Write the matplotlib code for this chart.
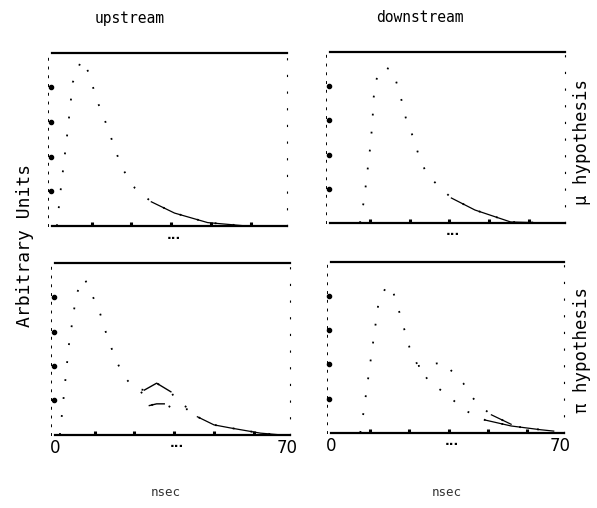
import matplotlib
matplotlib.use("Agg")
import matplotlib.pyplot as plt

# time axis in nsec, amplitude in arbitrary units (0 = lower rule, 1 = upper rule)
up_mu_t = [1.5, 2.4, 4.5, 6.3, 8.9, 11.0, 13.7, 15.8, 17.3, 21.0, 25.0, 30.0, 37.0, 47.0, 59.0, 68.0]
up_mu_v = [0.0, 0.17, 0.51, 0.83, 0.96, 0.89, 0.72, 0.62, 0.54, 0.34, 0.22, 0.14, 0.075, 0.02, 0.0, 0.0]

down_mu_t = [9.0, 10.1, 10.7, 12.2, 12.8, 13.1, 14.3, 16.5, 19.0, 21.8, 23.0, 25.3, 26.8, 29.3, 36.6, 43.7, 54.5, 66.0]
down_mu_v = [0.0, 0.12, 0.21, 0.46, 0.60, 0.73, 0.87, 0.91, 0.89, 0.70, 0.60, 0.49, 0.39, 0.28, 0.146, 0.076, 0.006, 0.0]

up_pi_t = [1.5, 4.2, 6.5, 8.9, 13.4, 16.1, 18.8, 20.8, 24.0, 27.0, 30.7, 35.0, 37.0, 40.8, 43.0, 48.0, 53.0, 62.0, 68.0]
up_pi_v = [0.0, 0.52, 0.82, 0.91, 0.72, 0.55, 0.42, 0.34, 0.27, 0.26, 0.30, 0.25, 0.19, 0.15, 0.105, 0.058, 0.04, 0.01, 0.0]
up_pi_alt_t = [26.0, 28.5, 30.7, 33.0, 35.0, 37.0, 40.8]
up_pi_alt_v = [0.25, 0.17, 0.18, 0.18, 0.16, 0.145, 0.15]

down_pi_t = [9.0, 10.0, 12.0, 14.5, 17.0, 18.6, 21.0, 24.0, 26.6, 30.0, 35.6, 41.0, 47.0, 55.0, 64.0, 68.0]
down_pi_v = [0.0, 0.12, 0.40, 0.75, 0.86, 0.85, 0.70, 0.50, 0.39, 0.30, 0.22, 0.13, 0.075, 0.04, 0.018, 0.01]
down_pi_alt_t = [26.6, 30.0, 34.4, 40.4, 43.0, 46.0, 49.0, 55.0]
down_pi_alt_v = [0.39, 0.40, 0.41, 0.29, 0.21, 0.15, 0.105, 0.05]

col_titles = ["upstream", "downstream"]
row_labels = ["\u03bc hypothesis", "\u03c0 hypothesis"]
y_dots = [0.2, 0.4, 0.6, 0.8]
x_dots = [12, 24, 36, 48, 60]
x_ends = [0, 70]

MONO = "DejaVu Sans Mono"


def draw_curve(ax, t, v, tail_from):
    ax.plot(t, v, color="black", lw=1.3, ls=(0, (1, 9)))
    tail_t = [a for a in t if a >= tail_from]
    tail_v = [b for a, b in zip(t, v) if a >= tail_from]
    ax.plot(tail_t, tail_v, color="black", lw=0.9)


def style_panel(ax, bottom_labels):
    ax.set_xlim(0, 71)
    ax.set_ylim(0, 1)
    for side in ("top", "bottom"):
        ax.spines[side].set_linewidth(1.6)
    ax.spines["left"].set_linestyle((0, (2, 7)))
    ax.spines["left"].set_linewidth(0.7)
    ax.spines["left"].set_position(("outward", 3))
    ax.spines["right"].set_linestyle((0, (1, 14)))
    ax.spines["right"].set_linewidth(0.8)
    ax.set_yticks([])
    # the y ticks show up as round dots just left of the frame
    ax.plot([-0.4] * len(y_dots), y_dots, "o", color="black", ms=3.0, clip_on=False)
    ax.set_xticks(x_dots, minor=True)
    ax.tick_params(axis="x", which="minor", direction="in", length=3, width=2.2)
    ax.set_xticks(x_ends)
    if bottom_labels:
        ax.set_xticklabels([str(x) for x in x_ends], fontsize=12)
    else:
        ax.set_xticklabels([])
    ax.tick_params(axis="x", which="major", length=0, pad=3)
    ax.text(0.52, -0.07, "\u00b7\u00b7\u00b7", transform=ax.transAxes, ha="center",
            va="center", fontsize=9, fontweight="bold")


fig = plt.figure(figsize=(5.97, 5.08), dpi=100)
ax_tl = fig.add_axes([0.087, 0.555, 0.394, 0.341])
ax_tr = fig.add_axes([0.553, 0.561, 0.394, 0.337])
ax_bl = fig.add_axes([0.092, 0.144, 0.394, 0.339])
ax_br = fig.add_axes([0.554, 0.148, 0.390, 0.337])

draw_curve(ax_tl, up_mu_t, up_mu_v, 30)
draw_curve(ax_tr, down_mu_t, down_mu_v, 36)
draw_curve(ax_bl, up_pi_t, up_pi_v, 43)
draw_curve(ax_bl, up_pi_alt_t, up_pi_alt_v, 99)
ax_bl.plot(up_pi_alt_t[1:4], up_pi_alt_v[1:4], color="black", lw=1.0)
ax_bl.plot(up_pi_t[9:12], up_pi_v[9:12], color="black", lw=1.0)
draw_curve(ax_br, down_pi_t, down_pi_v, 47)
draw_curve(ax_br, down_pi_alt_t, down_pi_alt_v, 48)

style_panel(ax_tl, False)
style_panel(ax_tr, False)
style_panel(ax_bl, True)
style_panel(ax_br, True)

fig.text(130 / 597, 1 - 18 / 508, col_titles[0], ha="center", va="center",
         family=MONO, fontsize=10.5)
fig.text(420 / 597, 1 - 18 / 508, col_titles[1], ha="center", va="center",
         family=MONO, fontsize=10.5)
fig.text(25 / 597, 1 - 245 / 508, "Arbitrary Units", rotation=90, ha="center",
         va="center", family=MONO, fontsize=13)
fig.text(582 / 597, 1 - 142 / 508, row_labels[0], rotation=90, ha="center",
         va="center", family=MONO, fontsize=12.5)
fig.text(582 / 597, 1 - 350 / 508, row_labels[1], rotation=90, ha="center",
         va="center", family=MONO, fontsize=12.5)
fig.text(166 / 597, 1 - 492 / 508, "nsec", ha="center", va="center",
         family=MONO, fontsize=9, color="#333333")
fig.text(447 / 597, 1 - 492 / 508, "nsec", ha="center", va="center",
         family=MONO, fontsize=9, color="#333333")

fig.savefig("out.png", dpi=100)
